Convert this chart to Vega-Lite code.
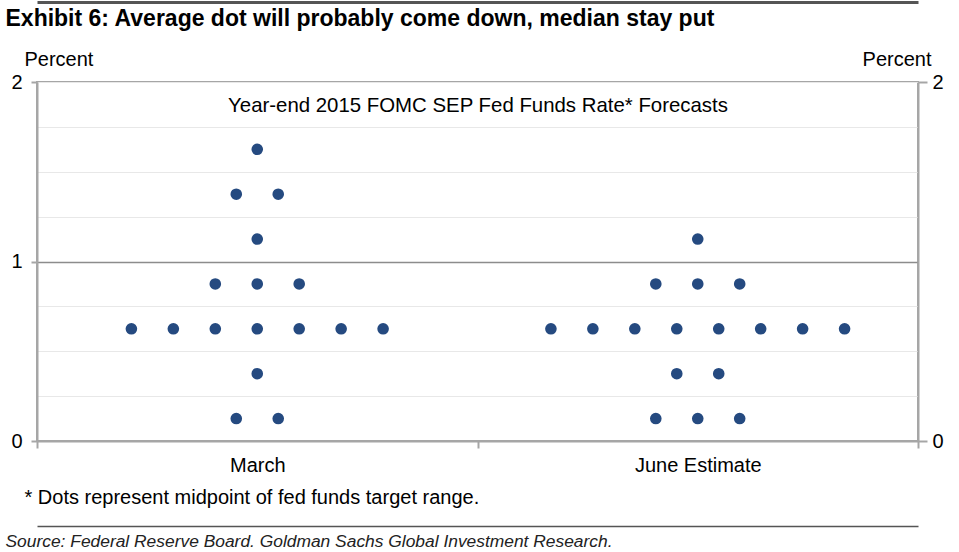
{
  "$schema": "https://vega.github.io/schema/vega-lite/v6.json",
  "width": 881,
  "height": 359,
  "autosize": {"type": "none"},
  "padding": {"left": 37, "top": 82, "right": 41, "bottom": 111},
  "background": "white",
  "config": {
    "view": {"stroke": "#a6a6a6", "strokeWidth": 2},
    "font": "Liberation Sans",
    "axis": {
      "labelFont": "Liberation Sans",
      "titleFont": "Liberation Sans",
      "labelColor": "#000000",
      "titleColor": "#000000",
      "titleFontWeight": "normal"
    }
  },
  "data": {
    "values": [
      {"period": "March", "col": 0, "rate": 1.625},
      {"period": "March", "col": -0.5, "rate": 1.375},
      {"period": "March", "col": 0.5, "rate": 1.375},
      {"period": "March", "col": 0, "rate": 1.125},
      {"period": "March", "col": -1, "rate": 0.875},
      {"period": "March", "col": 0, "rate": 0.875},
      {"period": "March", "col": 1, "rate": 0.875},
      {"period": "March", "col": -3, "rate": 0.625},
      {"period": "March", "col": -2, "rate": 0.625},
      {"period": "March", "col": -1, "rate": 0.625},
      {"period": "March", "col": 0, "rate": 0.625},
      {"period": "March", "col": 1, "rate": 0.625},
      {"period": "March", "col": 2, "rate": 0.625},
      {"period": "March", "col": 3, "rate": 0.625},
      {"period": "March", "col": 0, "rate": 0.375},
      {"period": "March", "col": -0.5, "rate": 0.125},
      {"period": "March", "col": 0.5, "rate": 0.125},
      {"period": "June Estimate", "col": 0, "rate": 1.125},
      {"period": "June Estimate", "col": -1, "rate": 0.875},
      {"period": "June Estimate", "col": 0, "rate": 0.875},
      {"period": "June Estimate", "col": 1, "rate": 0.875},
      {"period": "June Estimate", "col": -3.5, "rate": 0.625},
      {"period": "June Estimate", "col": -2.5, "rate": 0.625},
      {"period": "June Estimate", "col": -1.5, "rate": 0.625},
      {"period": "June Estimate", "col": -0.5, "rate": 0.625},
      {"period": "June Estimate", "col": 0.5, "rate": 0.625},
      {"period": "June Estimate", "col": 1.5, "rate": 0.625},
      {"period": "June Estimate", "col": 2.5, "rate": 0.625},
      {"period": "June Estimate", "col": 3.5, "rate": 0.625},
      {"period": "June Estimate", "col": -0.5, "rate": 0.375},
      {"period": "June Estimate", "col": 0.5, "rate": 0.375},
      {"period": "June Estimate", "col": -1, "rate": 0.125},
      {"period": "June Estimate", "col": 0, "rate": 0.125},
      {"period": "June Estimate", "col": 1, "rate": 0.125}
    ]
  },
  "layer": [
    {
      "mark": {"type": "point", "filled": true, "shape": "circle", "size": 135, "color": "#254a80", "opacity": 1},
      "encoding": {
        "x": {
          "field": "period", "type": "nominal", "sort": ["March", "June Estimate"],
          "scale": {"type": "band", "paddingInner": 0, "paddingOuter": 0},
          "axis": {
            "orient": "bottom", "labelAngle": 0, "labelFontSize": 20, "labelPadding": 7,
            "tickBand": "extent", "tickSize": 7, "tickColor": "#a6a6a6", "tickWidth": 2,
            "domainColor": "#a6a6a6", "domainWidth": 2, "grid": false,
            "title": "* Dots represent midpoint of fed funds target range.",
            "titleFontSize": 20, "titleX": -13, "titleY": 56, "titleAlign": "left", "titleBaseline": "middle"
          }
        },
        "xOffset": {"field": "col", "type": "quantitative", "scale": {"domain": [-5.25, 5.25]}},
        "y": {
          "field": "rate", "type": "quantitative",
          "scale": {"domain": [0, 2], "nice": false},
          "axis": {
            "orient": "left",
            "values": [0, 0.25, 0.5, 0.75, 1, 1.25, 1.5, 1.75, 2],
            "labelExpr": "datum.value % 1 === 0 ? format(datum.value, 'd') : ''",
            "labelOverlap": false, "labelFontSize": 20, "labelPadding": 9,
            "tickSize": 6, "tickColor": "#a6a6a6", "tickWidth": 2,
            "tickOpacity": {"condition": {"test": "datum.value % 1 === 0", "value": 1}, "value": 0},
            "domainColor": "#a6a6a6", "domainWidth": 2,
            "grid": true,
            "gridColor": {"condition": {"test": "datum.value === 1", "value": "#8c8c8c"}, "value": "#e8e8e8"},
            "gridWidth": {"condition": {"test": "datum.value === 1", "value": 1.5}, "value": 1},
            "title": "Percent", "titleFontSize": 20, "titleAngle": 0, "titleX": -13, "titleY": -23,
            "titleAlign": "left", "titleBaseline": "middle"
          }
        }
      }
    },
    {
      "mark": {"type": "point", "opacity": 0},
      "encoding": {
        "x": {
          "field": "period", "type": "nominal", "sort": ["March", "June Estimate"],
          "scale": {"type": "band", "paddingInner": 0, "paddingOuter": 0},
          "axis": {
            "orient": "top", "domain": false, "ticks": false, "labels": false, "grid": false,
            "title": "Year-end 2015 FOMC SEP Fed Funds Rate* Forecasts",
            "titleFontSize": 20.4, "titleX": 440.5, "titleY": 23, "titleAlign": "center", "titleBaseline": "middle"
          }
        },
        "xOffset": {"field": "col", "type": "quantitative", "scale": {"domain": [-5.25, 5.25]}},
        "y": {
          "field": "rate", "type": "quantitative",
          "scale": {"domain": [0, 2], "nice": false},
          "axis": {
            "orient": "right", "values": [0, 1, 2], "format": "d", "grid": false,
            "labelFontSize": 20, "labelPadding": 5,
            "tickSize": 9, "tickColor": "#a6a6a6", "tickWidth": 2,
            "domainColor": "#a6a6a6", "domainWidth": 2,
            "title": "Percent", "titleFontSize": 20, "titleAngle": 0, "titleX": 13, "titleY": -23,
            "titleAlign": "right", "titleBaseline": "middle"
          }
        }
      }
    },
    {
      "mark": {"type": "point", "opacity": 0},
      "encoding": {
        "x": {
          "field": "period", "type": "nominal", "sort": ["March", "June Estimate"],
          "scale": {"type": "band", "paddingInner": 0, "paddingOuter": 0},
          "axis": {
            "orient": "bottom", "offset": 85, "domainColor": "#555555", "domainWidth": 1.5,
            "ticks": false, "labels": false, "grid": false,
            "title": "Source: Federal Reserve Board. Goldman Sachs Global Investment Research.",
            "titleFontSize": 17.4, "titleFontStyle": "italic", "titleColor": "#222222",
            "titleX": -32, "titleY": 15, "titleAlign": "left", "titleBaseline": "middle"
          }
        },
        "xOffset": {"field": "col", "type": "quantitative", "scale": {"domain": [-5.25, 5.25]}},
        "y": {"field": "rate", "type": "quantitative", "scale": {"domain": [0, 2], "nice": false}, "axis": null}
      }
    },
    {
      "mark": {"type": "point", "opacity": 0},
      "encoding": {
        "x": {
          "field": "period", "type": "nominal", "sort": ["March", "June Estimate"],
          "scale": {"type": "band", "paddingInner": 0, "paddingOuter": 0},
          "axis": {
            "orient": "top", "offset": 80, "domainColor": "#555555", "domainWidth": 3,
            "ticks": false, "labels": false, "grid": false,
            "title": "Exhibit 6: Average dot will probably come down, median stay put",
            "titleFont": "Liberation Sans", "titleFontWeight": "bold", "titleFontSize": 23,
            "titleX": -32, "titleY": 16, "titleAlign": "left", "titleBaseline": "middle"
          }
        },
        "xOffset": {"field": "col", "type": "quantitative", "scale": {"domain": [-5.25, 5.25]}},
        "y": {"field": "rate", "type": "quantitative", "scale": {"domain": [0, 2], "nice": false}, "axis": null}
      }
    }
  ],
  "resolve": {"axis": {"x": "independent", "y": "independent"}}
}
